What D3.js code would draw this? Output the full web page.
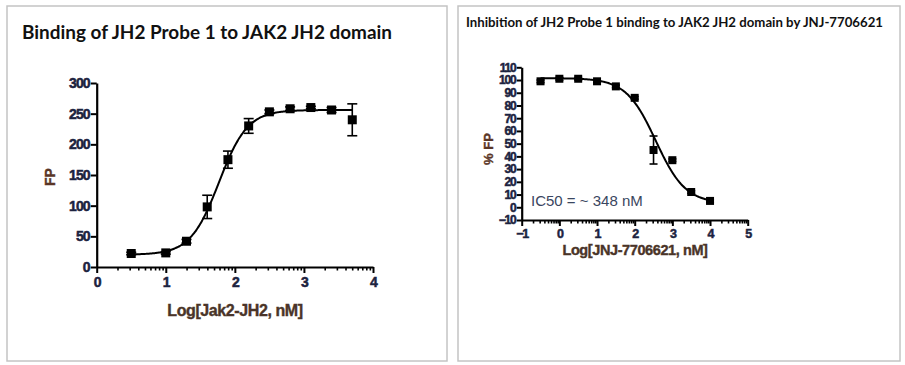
<!DOCTYPE html>
<html>
<head>
<meta charset="utf-8">
<script src="https://cdn.jsdelivr.net/npm/d3@7"></script>
<style>
  body { margin: 0; background: #fff; }
  svg { display: block; }
  .tick text { font-family: "Liberation Sans", Arial, sans-serif; font-weight: 700; fill: #1c2340; }
</style>
</head>
<body>
<svg id="chart" width="905" height="365"></svg>
<script>
// left panel: binding of probe to JH2 domain
const bindLogConc = [0.5, 1.0, 1.3, 1.6, 1.9, 2.2, 2.5, 2.8, 3.1, 3.4, 3.7];
const bindFP = [22, 23, 42, 98, 175, 230, 253, 258, 260, 256, 240];
const bindErr = [2, 2, 3, 19, 14, 12, 3, 3, 2, 4, 26];
const bindFit = [20, 256, 1.77, 2.1]; // bottom, top, logEC50, hill
const bindXTicks = [0, 1, 2, 3, 4];
const bindYTicks = [0, 50, 100, 150, 200, 250, 300];

// right panel: inhibition by JNJ-7706621
const inhLogConc = [-0.5, 0, 0.5, 1, 1.5, 2, 2.5, 3, 3.5, 4];
const inhPct = [99, 101, 101, 99, 95, 86, 45, 37, 12, 5];
const inhErr = [1, 1, 1, 1, 1, 1, 11, 1, 1, 1];
const inhFit = [3, 101.5, 2.56, -1.1]; // bottom, top, logIC50, hill
const inhXTicks = [-1, 0, 1, 2, 3, 4, 5];
const inhYTicks = [-10, 0, 10, 20, 30, 40, 50, 60, 70, 80, 90, 100, 110];

const svg = d3.select("#chart");
const sans = "'Liberation Sans', Arial, sans-serif";

function fourPL(p) {
  const [bottom, top, mid, hill] = p;
  return x => bottom + (top - bottom) / (1 + Math.pow(10, (mid - x) * hill));
}

function logMinors(ticks) {
  const out = [];
  for (let i = 0; i < ticks.length - 1; i++) {
    for (let k = 2; k <= 9; k++) out.push(ticks[i] + Math.log10(k));
  }
  return out;
}

function panel(o) {
  // frame
  svg.append("rect")
    .attr("x", o.box[0]).attr("y", o.box[1])
    .attr("width", o.box[2]).attr("height", o.box[3])
    .attr("fill", "none").attr("stroke", "#c4c4c4").attr("stroke-width", 1.5);

  svg.append("text")
    .attr("x", o.titlePos[0]).attr("y", o.titlePos[1])
    .attr("font-family", "Lato, 'Open Sans', sans-serif")
    .attr("font-weight", "bold")
    .attr("font-size", o.titleSize)
    .attr("fill", "#111")
    .attr("textLength", o.titleWidth)
    .attr("lengthAdjust", "spacingAndGlyphs")
    .text(o.title);

  const x = d3.scaleLinear().domain(o.xDomain).range(o.xRange);
  const y = d3.scaleLinear().domain(o.yDomain).range(o.yRange);

  // minor log ticks on x
  const minor = svg.append("g")
    .attr("transform", `translate(0,${o.yRange[0]})`)
    .call(d3.axisBottom(x).tickValues(logMinors(o.xTicks)).tickSize(3.5).tickFormat(""));
  minor.select(".domain").remove();
  minor.selectAll("line").attr("stroke", "#000").attr("stroke-width", 1.6);

  const gx = svg.append("g")
    .attr("transform", `translate(0,${o.yRange[0]})`)
    .call(d3.axisBottom(x).tickValues(o.xTicks).tickSize(6).tickSizeOuter(0).tickPadding(o.xPad).tickFormat(d3.format("d")));
  gx.select(".domain").attr("stroke", "#000").attr("stroke-width", 2.2);
  gx.selectAll("line").attr("stroke", "#000").attr("stroke-width", 2);
  gx.selectAll("text").attr("font-size", o.tickSize).attr("letter-spacing", o.tickSpacing)
    .attr("stroke", "#1c2340").attr("stroke-width", 0.5);

  const gy = svg.append("g")
    .attr("transform", `translate(${o.xRange[0]},0)`)
    .call(d3.axisLeft(y).tickValues(o.yTicks).tickSize(o.yTickLen).tickSizeOuter(0).tickPadding(1));
  gy.select(".domain").attr("stroke", "#000").attr("stroke-width", 2.2);
  gy.selectAll("line").attr("stroke", "#000").attr("stroke-width", 2);
  gy.selectAll("text").attr("font-size", o.yTickFont).attr("letter-spacing", o.tickSpacing)
    .attr("stroke", "#1c2340").attr("stroke-width", 0.5);

  // axis titles
  svg.append("text")
    .attr("x", o.xTitlePos[0]).attr("y", o.xTitlePos[1])
    .attr("text-anchor", "middle")
    .attr("font-family", sans)
    .attr("font-weight", "bold").attr("font-size", o.xTitleSize)
    .attr("letter-spacing", -0.4)
    .attr("fill", "#4a3428").attr("stroke", "#4a3428").attr("stroke-width", 0.4)
    .text(o.xTitle);

  svg.append("text")
    .attr("transform", `translate(${o.yTitlePos[0]},${o.yTitlePos[1]}) rotate(-90)`)
    .attr("text-anchor", "middle")
    .attr("font-family", sans)
    .attr("font-weight", "bold").attr("font-size", o.yTitleSize)
    .attr("fill", "#5a3526").attr("stroke", "#5a3526").attr("stroke-width", 0.4)
    .text(o.yTitle);

  // fitted curve
  const f = fourPL(o.fit);
  const xs = d3.range(o.curveFrom, o.curveTo + 0.001, 0.02);
  svg.append("path")
    .datum(xs)
    .attr("fill", "none").attr("stroke", "#000").attr("stroke-width", 2)
    .attr("d", d3.line().x(d => x(d)).y(d => y(f(d))).curve(d3.curveBasis));

  const pts = o.xs.map((v, i) => ({ x: v, y: o.ys[i], e: o.err[i] }));

  // error bars
  const eb = svg.append("g").attr("stroke", "#000").attr("stroke-width", 1.6);
  pts.forEach(d => {
    const cx = x(d.x);
    eb.append("line").attr("x1", cx).attr("x2", cx).attr("y1", y(d.y - d.e)).attr("y2", y(d.y + d.e));
    [d.y - d.e, d.y + d.e].forEach(v => {
      eb.append("line").attr("x1", cx - o.cap).attr("x2", cx + o.cap).attr("y1", y(v)).attr("y2", y(v));
    });
  });

  svg.append("g").selectAll("rect")
    .data(pts)
    .join("rect")
    .attr("x", d => x(d.x) - o.marker / 2)
    .attr("y", d => y(d.y) - o.marker / 2)
    .attr("width", o.marker).attr("height", o.marker)
    .attr("fill", "#000");

  return { x, y };
}

panel({
  box: [7, 6, 440, 355],
  title: "Binding of JH2 Probe 1 to JAK2 JH2 domain",
  titlePos: [22, 39], titleSize: 18, titleWidth: 370,
  xDomain: [0, 4], xRange: [96.7, 373],
  yDomain: [0, 300], yRange: [267, 83],
  xTicks: bindXTicks, yTicks: bindYTicks,
  tickSize: 14, yTickFont: 14, tickSpacing: -0.9, xPad: 4, yTickLen: 6,
  xTitle: "Log[Jak2-JH2, nM]", xTitlePos: [235, 316], xTitleSize: 16,
  yTitle: "FP", yTitlePos: [55, 177], yTitleSize: 14,
  fit: bindFit, curveFrom: 0.5, curveTo: 3.7,
  xs: bindLogConc, ys: bindFP, err: bindErr,
  cap: 5, marker: 9
});

panel({
  box: [458, 6, 442, 355],
  title: "Inhibition of JH2 Probe 1 binding to JAK2 JH2 domain by JNJ-7706621",
  titlePos: [466, 27], titleSize: 12.5, titleWidth: 417,
  xDomain: [-1, 5], xRange: [521.7, 747.7],
  yDomain: [-10, 110], yRange: [220, 67.3],
  xTicks: inhXTicks, yTicks: inhYTicks,
  tickSize: 12.5, yTickFont: 12, tickSpacing: -1.1, xPad: 3, yTickLen: 5,
  xTitle: "Log[JNJ-7706621, nM]", xTitlePos: [635, 255], xTitleSize: 14.5,
  yTitle: "% FP", yTitlePos: [493, 149], yTitleSize: 13,
  fit: inhFit, curveFrom: -0.5, curveTo: 4,
  xs: inhLogConc, ys: inhPct, err: inhErr,
  cap: 4, marker: 8
});

svg.append("text")
  .attr("x", 531).attr("y", 206)
  .attr("font-family", sans)
  .attr("font-size", 15)
  .attr("fill", "#3a4660")
  .text("IC50 = ~ 348 nM");
</script>
</body>
</html>
